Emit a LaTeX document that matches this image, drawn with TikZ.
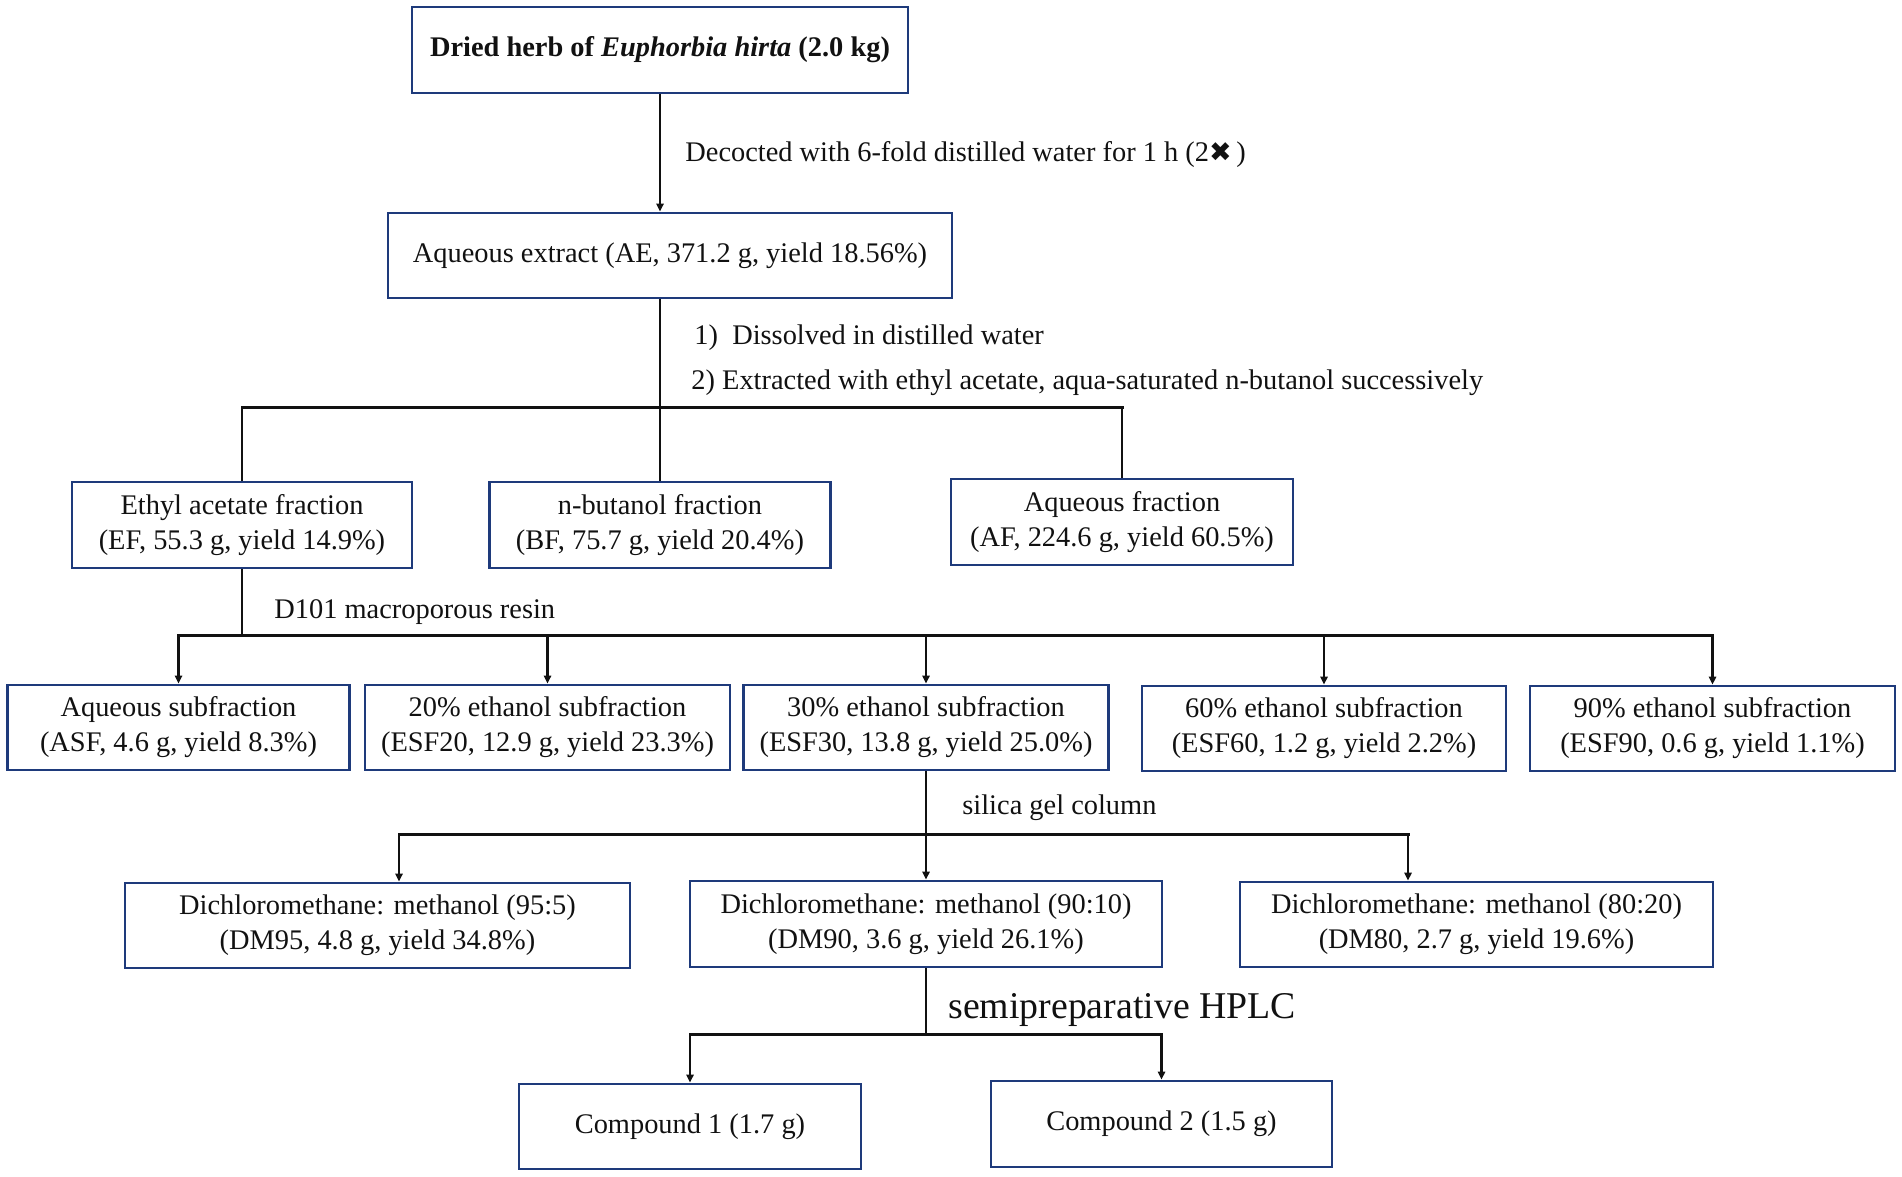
\documentclass[tikz,border=0pt]{standalone}
\usepackage{fontspec}
\setmainfont{Liberation Serif}
\newfontfamily\djv{DejaVu Sans}
\usetikzlibrary{arrows.meta}
\definecolor{boxblue}{HTML}{1E3A7B}
\definecolor{ink}{HTML}{111111}
\begin{document}
\begin{tikzpicture}[x=0.5pt,y=-0.5pt,
  every node/.style={text=ink},
  box/.style={draw=boxblue, line width=1.35pt, rectangle, inner sep=0pt, align=center,
    font=\fontsize{14.2}{17.5}\selectfont},
  lbl/.style={anchor=west, inner sep=0pt, font=\fontsize{14.2}{17.5}\selectfont},
  vl/.style={draw=ink, line width=1.1pt},
  hl/.style={draw=ink, line width=1.5pt, line cap=rect},
  arr/.style={-{Triangle[length=4pt,width=3.6pt]}}]
\useasboundingbox (0,0) rectangle (1902,1177);

% boxes
\node[box, minimum width=248pt, minimum height=43pt] (top) at (660,50)
  {\bfseries Dried herb of \textit{Euphorbia hirta} (2.0 kg)};
\node[box, minimum width=282pt, minimum height=42.5pt] (AE) at (670,255.5)
  {Aqueous extract (AE, 371.2 g, yield 18.56\%)};
\node[box, minimum width=170pt, minimum height=43pt] (EF) at (242,525)
  {Ethyl acetate fraction\\(EF, 55.3 g, yield 14.9\%)};
\node[box, minimum width=170.5pt, minimum height=43pt] (BF) at (660,525)
  {n-butanol fraction\\(BF, 75.7 g, yield 20.4\%)};
\node[box, minimum width=171pt, minimum height=43pt] (AF) at (1122,522)
  {Aqueous fraction\\(AF, 224.6 g, yield 60.5\%)};
\node[box, minimum width=171pt, minimum height=42.5pt] (ASF) at (178.5,727.5)
  {Aqueous subfraction\\(ASF, 4.6 g, yield 8.3\%)};
\node[box, minimum width=182.5pt, minimum height=42.5pt] (ESF20) at (547.5,727.5)
  {20\% ethanol subfraction\\(ESF20, 12.9 g, yield 23.3\%)};
\node[box, minimum width=182.5pt, minimum height=42.5pt] (ESF30) at (926,727.5)
  {30\% ethanol subfraction\\(ESF30, 13.8 g, yield 25.0\%)};
\node[box, minimum width=182pt, minimum height=42.5pt] (ESF60) at (1324,728.5)
  {60\% ethanol subfraction\\(ESF60, 1.2 g, yield 2.2\%)};
\node[box, minimum width=182.5pt, minimum height=42.5pt] (ESF90) at (1712.5,728.5)
  {90\% ethanol subfraction\\(ESF90, 0.6 g, yield 1.1\%)};
\node[box, minimum width=252.5pt, minimum height=42.5pt] (DM95) at (377.5,925.5)
  {Dichloromethane: methanol (95:5)\\(DM95, 4.8 g, yield 34.8\%)};
\node[box, minimum width=236pt, minimum height=43pt] (DM90) at (926,924)
  {Dichloromethane: methanol (90:10)\\(DM90, 3.6 g, yield 26.1\%)};
\node[box, minimum width=236.5pt, minimum height=42.5pt] (DM80) at (1476.5,924.5)
  {Dichloromethane: methanol (80:20)\\(DM80, 2.7 g, yield 19.6\%)};
\node[box, minimum width=171pt, minimum height=42.5pt] (C1) at (690,1126.5)
  {Compound 1 (1.7 g)};
\node[box, minimum width=170.5pt, minimum height=43pt] (C2) at (1161.5,1124)
  {Compound 2 (1.5 g)};

% labels
\node[lbl] (ldec) at (685,155) {Decocted with 6-fold distilled water for 1 h (2{\djv\fontsize{13.5}{14}\selectfont ✖}\,)};
\node[lbl] (ldis) at (694,338) {1)\ \ Dissolved in distilled water};
\node[lbl] (lext) at (691,383) {2) Extracted with ethyl acetate, aqua-saturated n-butanol successively};
\node[lbl] (ld101) at (274,612) {D101 macroporous resin};
\node[lbl] (lsil) at (962,808) {silica gel column};
\node[lbl, font=\fontsize{18.9}{22}\selectfont] (lhplc) at (948,1010) {semipreparative HPLC};

% branch coordinates
\coordinate (b1) at (660,407);
\coordinate (b2) at (242,635);
\coordinate (b3) at (926,834);
\coordinate (b4) at (926,1034);
\coordinate (d95) at (399,834);
\coordinate (d80) at (1408,834);

% level 1
\draw[vl,arr] (top.south) -- (top.south |- AE.north);
\draw[vl] (top.south |- AE.south) -- (b1);
\draw[hl] (EF.north |- b1) -- (AF.north |- b1);
\draw[vl] (EF.north |- b1) -- (EF.north);
\draw[vl] (BF.north |- b1) -- (BF.north);
\draw[vl] (AF.north |- b1) -- (AF.north);

% level 2
\draw[vl] (EF.south) -- (b2);
\draw[hl] (ASF.north |- b2) -- (ESF90.north |- b2);
\foreach \n in {ASF,ESF20,ESF30,ESF60,ESF90}
  \draw[vl,arr] (\n.north |- b2) -- (\n.north);

% level 3
\draw[vl] (ESF30.south) -- (b3);
\draw[hl] (d95) -- (d80);
\draw[vl,arr] (d95) -- (d95 |- DM95.north);
\draw[vl,arr] (b3) -- (DM90.north);
\draw[vl,arr] (d80) -- (d80 |- DM80.north);

% level 4
\draw[vl] (DM90.south) -- (b4);
\draw[hl] (C1.north |- b4) -- (C2.north |- b4);
\draw[vl,arr] (C1.north |- b4) -- (C1.north);
\draw[vl,arr] (C2.north |- b4) -- (C2.north);
\end{tikzpicture}
\end{document}
